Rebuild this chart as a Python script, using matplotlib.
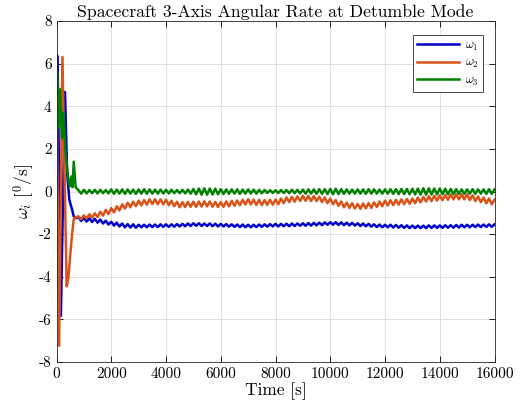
import numpy as np
import matplotlib
matplotlib.use("Agg")
import matplotlib.pyplot as plt

# ---------------- data ----------------
# initial transient (time [s], rate [deg/s])
t1_init = [0, 40, 160, 310, 390, 470, 570, 630, 700]
w1_init = [6.40, 6.35, -5.84, 4.67, 0.80, -0.40, -0.85, -1.17, -1.25]

t2_init = [0, 95, 218, 370, 430, 500, 570, 630, 700]
w2_init = [5.00, -7.24, 6.31, -4.45, -4.10, -3.00, -2.00, -1.30, -1.20]

t3_init = [0, 30, 80, 125, 200, 255, 330, 420, 484, 545, 585, 630, 700]
w3_init = [5.70, 5.50, 3.00, 4.80, 2.50, 3.70, 1.80, 0.70, 0.25, 0.70, 0.20, 1.40, 0.20]

# steady part sampled every 100 s from 800 s to 16000 s
t_start, t_end, t_step = 800, 16000, 100

w1_steady = [
    -1.20, -1.38,
    -1.24, -1.41, -1.26, -1.43, -1.28, -1.46, -1.32, -1.50, -1.37, -1.55,
    -1.42, -1.60, -1.46, -1.64, -1.50, -1.68, -1.53, -1.69, -1.54, -1.70,
    -1.56, -1.68, -1.56, -1.68, -1.55, -1.67, -1.55, -1.67, -1.54, -1.66,
    -1.54, -1.66, -1.54, -1.65, -1.53, -1.64, -1.52, -1.63, -1.50, -1.62,
    -1.49, -1.61, -1.49, -1.62, -1.50, -1.62, -1.50, -1.63, -1.51, -1.64,
    -1.52, -1.64, -1.53, -1.65, -1.54, -1.66, -1.55, -1.67, -1.55, -1.68,
    -1.56, -1.68, -1.56, -1.67, -1.55, -1.66, -1.54, -1.65, -1.53, -1.64,
    -1.52, -1.64, -1.52, -1.63, -1.51, -1.63, -1.50, -1.62, -1.50, -1.61,
    -1.49, -1.61, -1.48, -1.60, -1.47, -1.59, -1.46, -1.58, -1.45, -1.56,
    -1.44, -1.56, -1.44, -1.57, -1.45, -1.58, -1.46, -1.59, -1.47, -1.60,
    -1.49, -1.62, -1.50, -1.63, -1.52, -1.65, -1.54, -1.67, -1.55, -1.68,
    -1.56, -1.68, -1.56, -1.69, -1.57, -1.70, -1.58, -1.71, -1.59, -1.72,
    -1.60, -1.72, -1.60, -1.72, -1.60, -1.72, -1.59, -1.71, -1.59, -1.71,
    -1.59, -1.71, -1.58, -1.70, -1.58, -1.70, -1.57, -1.69, -1.56, -1.68,
    -1.56, -1.68, -1.56, -1.67, -1.55, -1.67, -1.55, -1.66, -1.54, -1.66,
    -1.54,
]

w2_steady = [
    -1.17, -1.30,
    -1.12, -1.26, -1.07, -1.23, -1.02, -1.20, -0.95, -1.13, -0.86, -1.06,
    -0.78, -0.98, -0.69, -0.89, -0.60, -0.80, -0.53, -0.74, -0.48, -0.69,
    -0.43, -0.65, -0.40, -0.62, -0.36, -0.59, -0.36, -0.60, -0.37, -0.61,
    -0.38, -0.64, -0.43, -0.69, -0.48, -0.74, -0.50, -0.73, -0.49, -0.72,
    -0.48, -0.72, -0.47, -0.71, -0.46, -0.70, -0.47, -0.72, -0.49, -0.73,
    -0.50, -0.72, -0.47, -0.70, -0.44, -0.67, -0.42, -0.64, -0.39, -0.61,
    -0.36, -0.61, -0.38, -0.63, -0.39, -0.64, -0.40, -0.63, -0.39, -0.62,
    -0.38, -0.60, -0.33, -0.55, -0.28, -0.50, -0.25, -0.48, -0.23, -0.45,
    -0.20, -0.44, -0.20, -0.45, -0.21, -0.45, -0.24, -0.50, -0.28, -0.55,
    -0.33, -0.60, -0.40, -0.67, -0.47, -0.74, -0.52, -0.77, -0.55, -0.80,
    -0.58, -0.81, -0.56, -0.79, -0.54, -0.77, -0.51, -0.73, -0.47, -0.69,
    -0.43, -0.66, -0.41, -0.64, -0.39, -0.62, -0.37, -0.60, -0.35, -0.58,
    -0.33, -0.55, -0.29, -0.51, -0.25, -0.47, -0.22, -0.45, -0.20, -0.43,
    -0.18, -0.41, -0.16, -0.39, -0.14, -0.37, -0.13, -0.37, -0.13, -0.37,
    -0.13, -0.40, -0.18, -0.45, -0.23, -0.50, -0.28, -0.55, -0.33, -0.60,
    -0.38,
]

w3_steady = [
    0.06, -0.10,
    0.08, -0.09, 0.07, -0.08, 0.08, -0.09, 0.08, -0.08, 0.07, -0.09,
    0.10, -0.11, 0.09, -0.10, 0.10, -0.11, 0.10, -0.10, 0.09, -0.11,
    0.10, -0.10, 0.11, -0.11, 0.10, -0.10, 0.09, -0.10, 0.09, -0.09,
    0.08, -0.09, 0.08, -0.08, 0.07, -0.08, 0.08, -0.09, 0.09, -0.10,
    0.12, -0.13, 0.14, -0.15, 0.15, -0.15, 0.14, -0.14, 0.13, -0.13,
    0.11, -0.12, 0.10, -0.11, 0.10, -0.10, 0.10, -0.11, 0.09, -0.10,
    0.10, -0.10, 0.09, -0.10, 0.08, -0.08, 0.07, -0.07, 0.06, -0.07,
    0.06, -0.07, 0.07, -0.07, 0.07, -0.08, 0.08, -0.08, 0.08, -0.09,
    0.09, -0.10, 0.10, -0.10, 0.10, -0.11, 0.11, -0.11, 0.11, -0.12,
    0.12, -0.13, 0.13, -0.12, 0.11, -0.11, 0.10, -0.10, 0.09, -0.10,
    0.10, -0.10, 0.10, -0.11, 0.11, -0.10, 0.10, -0.10, 0.09, -0.10,
    0.10, -0.10, 0.11, -0.11, 0.11, -0.12, 0.12, -0.12, 0.12, -0.13,
    0.13, -0.14, 0.14, -0.15, 0.15, -0.15, 0.15, -0.14, 0.14, -0.14,
    0.14, -0.13, 0.13, -0.13, 0.12, -0.12, 0.11, -0.11, 0.10, -0.11,
    0.10, -0.10, 0.11, -0.11, 0.10, -0.10, 0.10, -0.11, 0.11, -0.11,
    0.10,
]

labels = [r"$\omega_1$", r"$\omega_2$", r"$\omega_3$"]
colors = ["#0000CD", "#D95319", "#008000"]

x_ticks = [0, 2000, 4000, 6000, 8000, 10000, 12000, 14000, 16000]
y_ticks = [-8, -6, -4, -2, 0, 2, 4, 6, 8]

# ---------------- plot ----------------
plt.rcParams["font.family"] = ["cmr10", "DejaVu Serif"]
plt.rcParams["mathtext.fontset"] = "cm"
plt.rcParams["axes.formatter.use_mathtext"] = True

t_steady = np.arange(t_start, t_end + 1, t_step)

W, H = 522.0, 415.0
left, right, top, bottom = 56.5, 494.5, 21.0, 362.0
fig = plt.figure(figsize=(W / 100, H / 100), dpi=100)
ax = fig.add_axes([left / W, 1 - bottom / H, (right - left) / W, (bottom - top) / H])

series = [
    (t1_init, w1_init, w1_steady),
    (t2_init, w2_init, w2_steady),
    (t3_init, w3_init, w3_steady),
]
for (ti, wi, ws), lab, c in zip(series, labels, colors):
    t = np.concatenate([ti, t_steady])
    w = np.concatenate([wi, ws])
    ax.plot(t, w, color=c, lw=1.8, label=lab)

ax.set_xlim(0, 16000)
ax.set_ylim(-8, 8)
ax.set_xticks(x_ticks)
ax.set_yticks(y_ticks)
ax.set_xticklabels([str(v) for v in x_ticks])
ax.set_yticklabels([str(v) for v in y_ticks])
ax.grid(True, color="#dedede", lw=0.7)
ax.set_axisbelow(True)
ax.tick_params(direction="in", top=True, right=True, labelsize=11, length=4, width=0.6)
for sp in ax.spines.values():
    sp.set_linewidth(0.6)
    sp.set_color("#262626")

ax.set_title("Spacecraft 3-Axis Angular Rate at Detumble Mode", fontsize=12.7, pad=3)
ax.set_xlabel("Time [s]", fontsize=12.5, labelpad=1)
ax.set_ylabel(r"$\omega_i$ [$^0$/s]", fontsize=12.5, labelpad=2)

leg = ax.legend(loc="upper right", fontsize=9, handlelength=3.3,
                fancybox=False, edgecolor="#262626", framealpha=1,
                borderpad=0.35, labelspacing=0.35, handletextpad=0.5,
                borderaxespad=0.0,
                bbox_to_anchor=((483 - left) / (right - left), (bottom - 35) / (bottom - top)))
leg.get_frame().set_linewidth(0.6)

fig.savefig("out.png", dpi=100)
